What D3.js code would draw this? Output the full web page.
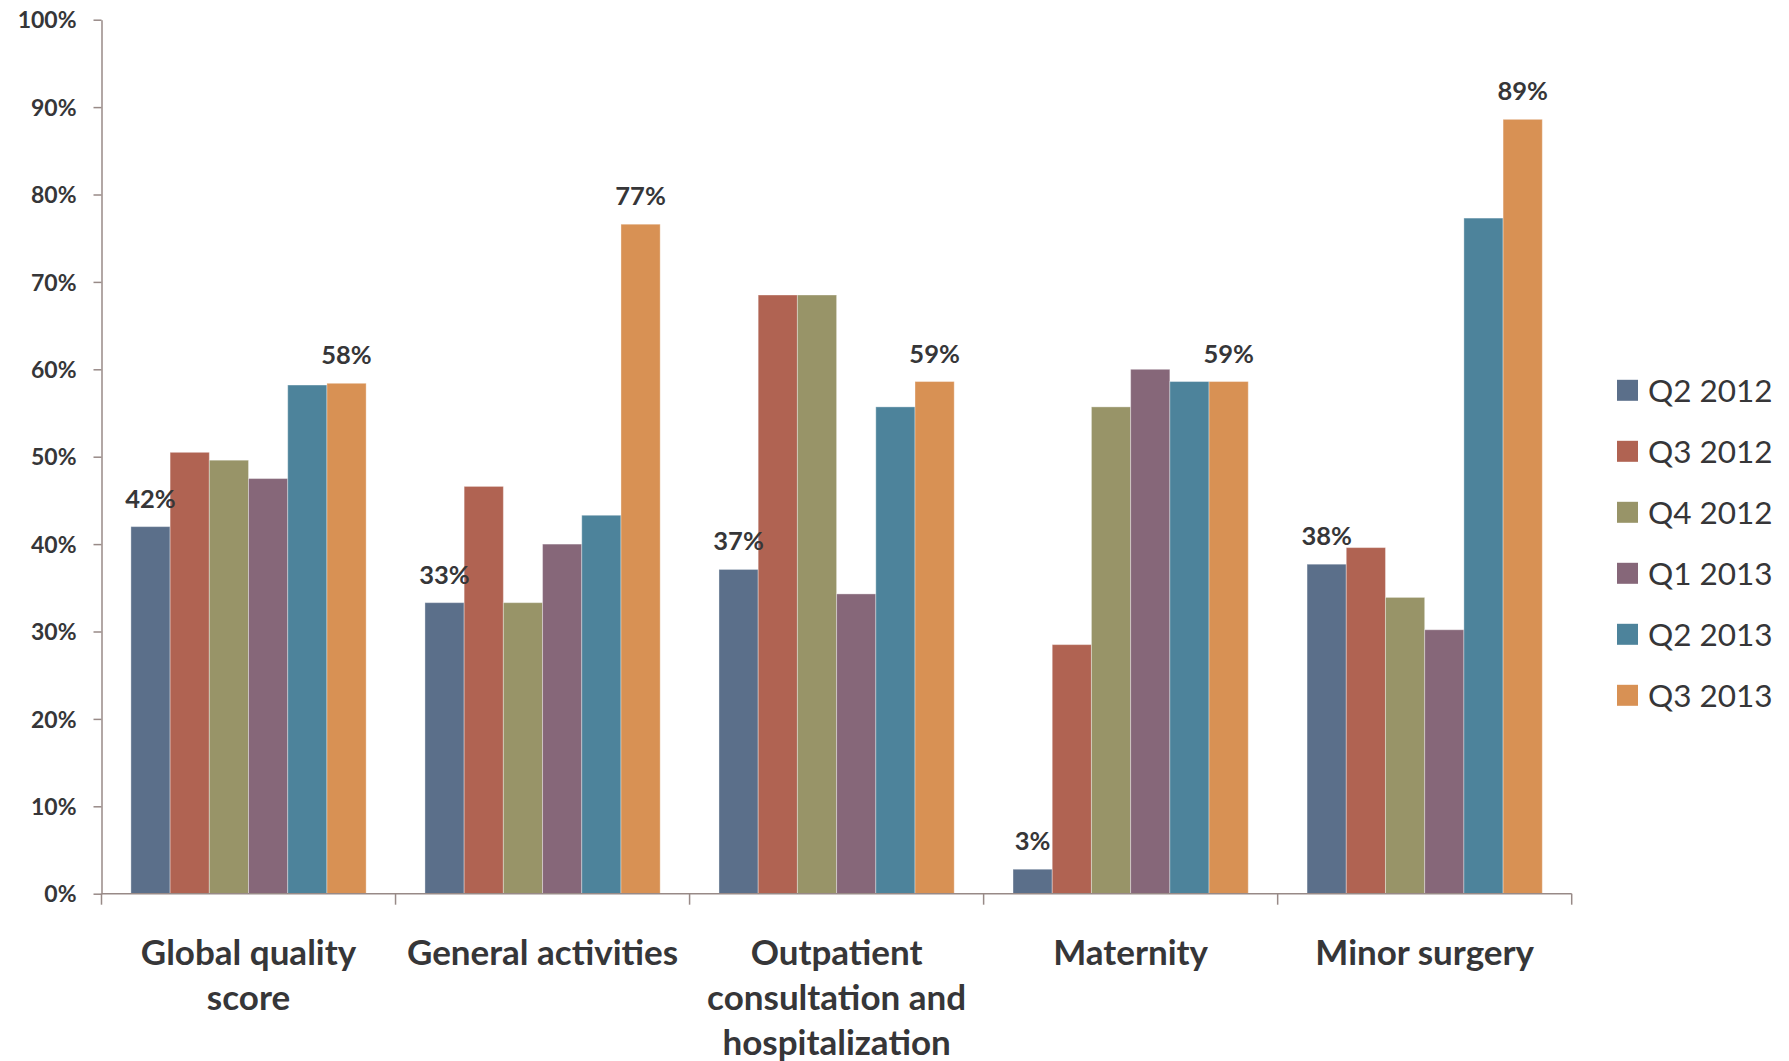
<!DOCTYPE html>
<html>
<head>
<meta charset="utf-8">
<script src="https://cdn.jsdelivr.net/npm/d3@7"></script>
<style>
  html, body { margin: 0; padding: 0; background: #ffffff; }
  svg { display: block; font-family: Lato, "Open Sans", "Liberation Sans", sans-serif; }
</style>
</head>
<body>
<svg id="chart" width="1789" height="1061"></svg>
<script>
// Quality scores by service area, per quarter (percent)
const categories = [
  "Global quality score",
  "General activities",
  "Outpatient consultation and hospitalization",
  "Maternity",
  "Minor surgery"
];
const seriesNames = ["Q2 2012", "Q3 2012", "Q4 2012", "Q1 2013", "Q2 2013", "Q3 2013"];
const q2_2012 = [42.0, 33.3, 37.1, 2.8, 37.7];
const q3_2012 = [50.5, 46.6, 68.5, 28.5, 39.6];
const q4_2012 = [49.6, 33.3, 68.5, 55.7, 33.9];
const q1_2013 = [47.5, 40.0, 34.3, 60.0, 30.2];
const q2_2013 = [58.2, 43.3, 55.7, 58.6, 77.3];
const q3_2013 = [58.4, 76.6, 58.6, 58.6, 88.6];
const seriesValues = [q2_2012, q3_2012, q4_2012, q1_2013, q2_2013, q3_2013];
const seriesColors = ["#5b6f8a", "#b06352", "#989468", "#866779", "#4d839b", "#d89154"];
const labeledSeries = ["Q2 2012", "Q3 2013"];
const yTickValues = [0, 10, 20, 30, 40, 50, 60, 70, 80, 90, 100];

const textColor = "#363638";
const axisColor = "#988a87";

const svg = d3.select("#chart");

const plot = { left: 101.5, right: 1571.7, top: 19.7, bottom: 893.7 };

const x0 = d3.scaleBand()
  .domain(categories)
  .range([plot.left, plot.right])
  .paddingInner(0)
  .paddingOuter(0);

const x1 = d3.scaleBand()
  .domain(seriesNames)
  .range([0, x0.bandwidth()])
  .paddingInner(0)
  .paddingOuter(0.75);

const y = d3.scaleLinear()
  .domain([0, 100])
  .range([plot.bottom, plot.top]);

const color = d3.scaleOrdinal().domain(seriesNames).range(seriesColors);

// Bars
const rows = categories.map((c, ci) => ({
  category: c,
  values: seriesNames.map((s, si) => ({ series: s, value: seriesValues[si][ci] }))
}));

const groups = svg.append("g").attr("class", "bars")
  .selectAll("g")
  .data(rows)
  .join("g")
  .attr("transform", d => `translate(${x0(d.category)},0)`);

groups.selectAll("rect")
  .data(d => d.values)
  .join("rect")
  .attr("x", d => x1(d.series))
  .attr("y", d => y(d.value))
  .attr("width", x1.bandwidth())
  .attr("height", d => y(0) - y(d.value))
  .attr("fill", d => color(d.series))
  .attr("stroke", "rgba(255,255,255,0.35)")
  .attr("stroke-width", 1);

// Value labels on the first and last quarter
groups.selectAll("text.value")
  .data(d => d.values.filter(v => labeledSeries.includes(v.series)))
  .join("text")
  .attr("class", "value")
  .attr("x", d => x1(d.series) + x1.bandwidth() / 2)
  .attr("y", d => y(d.value) - 19)
  .attr("text-anchor", "middle")
  .attr("fill", textColor)
  .attr("font-weight", 700)
  .attr("font-size", 25.5)
  .text(d => Math.round(d.value) + "%");

// Y axis
const yAxis = svg.append("g")
  .attr("transform", `translate(${plot.left},0)`)
  .call(d3.axisLeft(y)
    .tickValues(yTickValues)
    .tickFormat(d => d + "%")
    .tickSize(8)
    .tickSizeOuter(0)
    .tickPadding(17));
yAxis.select(".domain").attr("stroke", axisColor).attr("stroke-width", 1.5);
yAxis.selectAll(".tick line").attr("stroke", axisColor).attr("stroke-width", 1.5);
yAxis.selectAll(".tick text")
  .attr("fill", textColor)
  .attr("font-family", "Lato, 'Open Sans', sans-serif")
  .attr("font-size", 23)
  .attr("font-weight", 700)
  .attr("dy", "0.36em");

// X axis: baseline with ticks between categories
const xAxis = svg.append("g").attr("class", "x-axis");
xAxis.append("line")
  .attr("x1", plot.left).attr("x2", plot.right)
  .attr("y1", y(0)).attr("y2", y(0))
  .attr("stroke", axisColor).attr("stroke-width", 1.5);
const boundaries = categories.map(c => x0(c)).concat([x0.range()[1]]);
xAxis.selectAll("line.tick")
  .data(boundaries)
  .join("line")
  .attr("class", "tick")
  .attr("x1", d => d).attr("x2", d => d)
  .attr("y1", y(0)).attr("y2", y(0) + 11)
  .attr("stroke", axisColor).attr("stroke-width", 1.5);

// Category labels, wrapped to the band width
const catLabels = xAxis.selectAll("text.cat")
  .data(categories)
  .join("text")
  .attr("class", "cat")
  .attr("x", d => x0(d) + x0.bandwidth() / 2)
  .attr("y", 965)
  .attr("text-anchor", "middle")
  .attr("fill", textColor)
  .attr("font-weight", 700)
  .attr("font-size", 35);

catLabels.each(function (d) {
  const el = d3.select(this);
  const cx = x0(d) + x0.bandwidth() / 2;
  const maxW = x0.bandwidth() - 4;
  const words = d.split(" ");
  let lines = [];
  let line = [];
  const probe = el.append("tspan");
  words.forEach(w => {
    const trial = line.concat([w]).join(" ");
    probe.text(trial);
    if (probe.node().getComputedTextLength() > maxW && line.length) {
      lines.push(line.join(" "));
      line = [w];
    } else {
      line.push(w);
    }
  });
  if (line.length) lines.push(line.join(" "));
  probe.remove();
  lines.forEach((t, i) => {
    el.append("tspan")
      .attr("x", cx)
      .attr("dy", i === 0 ? 0 : 45)
      .text(t);
  });
});

// Legend
const legend = svg.append("g").attr("class", "legend")
  .selectAll("g")
  .data(seriesNames)
  .join("g")
  .attr("transform", (d, i) => `translate(1617,${390.3 + i * 61})`);
legend.append("rect")
  .attr("x", 0).attr("y", -10.5)
  .attr("width", 21).attr("height", 21)
  .attr("fill", d => color(d));
legend.append("text")
  .attr("x", 31)
  .attr("y", 11.3)
  .attr("fill", textColor)
  .attr("font-size", 31.5)
  .text(d => d);
</script>
</body>
</html>
